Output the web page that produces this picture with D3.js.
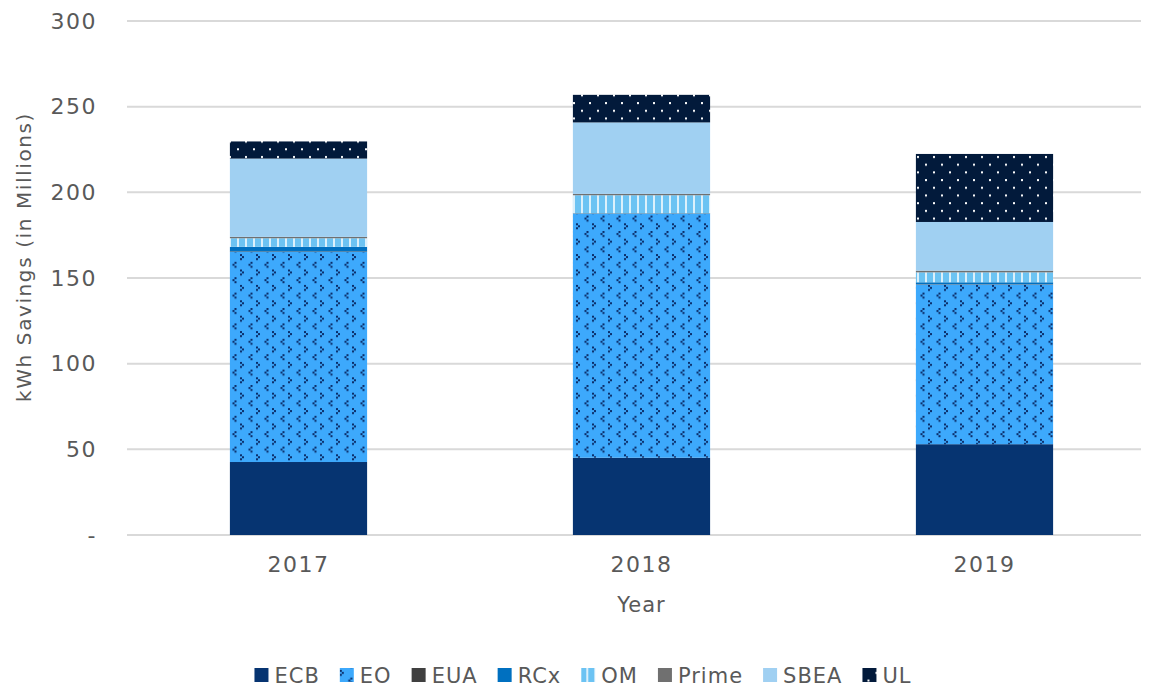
<!DOCTYPE html>
<html>
<head>
<meta charset="utf-8">
<script src="https://cdn.jsdelivr.net/npm/d3@7"></script>
<style>
  body { margin: 0; background: #fff; }
  svg text { font-family: "DejaVu Sans", sans-serif; fill: #595959; }
</style>
</head>
<body>
<div id="chart_div"></div>
<script>
// data
const years = ["2017", "2018", "2019"];
const seriesNames = ["ECB", "EO", "EUA", "RCx", "OM", "Prime", "SBEA", "UL"];
const ECB = [42.6, 45.1, 53.0];
const EO = [122.6, 142.3, 93.3];
const EUA = [0.3, 0.2, 0.2];
const RCx = [2.7, 0.2, 1.0];
const OM = [5.0, 10.5, 5.8];
const Prime = [0.8, 0.8, 1.0];
const SBEA = [45.7, 41.7, 28.4];
const UL = [10.0, 16.1, 39.7];
const yTicks = [0, 50, 100, 150, 200, 250, 300];

const values = { ECB, EO, EUA, RCx, OM, Prime, SBEA, UL };
const fills = {
  ECB: "#063471", EO: "url(#patEO)", EUA: "#404040", RCx: "#0070C0",
  OM: "url(#patOM)", Prime: "#707070", SBEA: "#A0D0F2", UL: "url(#patUL)"
};

const W = 1153, H = 688;
const margin = { left: 127, right: -3, top: 21, bottom: 153 };

const svg = d3.select("#chart_div").append("svg")
  .attr("width", W).attr("height", H);

// patterns
const defs = svg.append("defs");
const eo = defs.append("pattern").attr("id", "patEO")
  .attr("patternUnits", "userSpaceOnUse").attr("width", 16).attr("height", 15.4);
eo.append("rect").attr("width", 16).attr("height", 15.4).attr("fill", "#3DA9FC");
// "<" at (8,0) and ">" at (0,7.7)
[[10.5, 0], [8.5, 2], [10.5, 4]].forEach(p =>
  eo.append("rect").attr("x", p[0]).attr("y", p[1]).attr("width", 2).attr("height", 2).attr("fill", "#0B2E6A"));
[[0, 7.7], [2, 9.7], [0, 11.7]].forEach(p =>
  eo.append("rect").attr("x", p[0]).attr("y", p[1]).attr("width", 2).attr("height", 2).attr("fill", "#0B2E6A"));

const om = defs.append("pattern").attr("id", "patOM")
  .attr("patternUnits", "userSpaceOnUse").attr("width", 8).attr("height", 8);
om.append("rect").attr("width", 8).attr("height", 8).attr("fill", "#6CC3F3");
om.append("rect").attr("x", 5).attr("width", 2).attr("height", 8).attr("fill", "#DCF0FB");

const ul = defs.append("pattern").attr("id", "patUL")
  .attr("patternUnits", "userSpaceOnUse").attr("width", 16).attr("height", 15.4);
ul.append("rect").attr("width", 16).attr("height", 15.4).attr("fill", "#021A3B");
ul.append("rect").attr("x", 5).attr("y", 2).attr("width", 2).attr("height", 2).attr("fill", "#fff");
ul.append("rect").attr("x", 13).attr("y", 9.7).attr("width", 2).attr("height", 2).attr("fill", "#fff");

const x = d3.scaleBand()
  .domain(years)
  .range([margin.left, W - margin.right])
  .paddingInner(0.6).paddingOuter(0.3);

const y = d3.scaleLinear()
  .domain([0, 300])
  .range([H - margin.bottom, margin.top]);

// gridlines
svg.append("g")
  .selectAll("line").data(yTicks).enter().append("line")
  .attr("x1", margin.left).attr("x2", 1141)
  .attr("y1", d => y(d)).attr("y2", d => y(d))
  .attr("stroke", "#D9D9D9").attr("stroke-width", 2);

// y axis labels
const yAxis = svg.append("g")
  .attr("transform", "translate(" + margin.left + ",0)")
  .call(d3.axisLeft(y).tickValues(yTicks).tickSize(0).tickPadding(30)
    .tickFormat(d => d === 0 ? "-" : d));
yAxis.select(".domain").remove();
yAxis.selectAll("text").style("font-size", "22px").style("letter-spacing", "1.5px")
  .style("font-family", "DejaVu Sans").attr("fill", "#595959");

// stacked bars
const rows = years.map((yr, i) => {
  const r = { year: yr };
  seriesNames.forEach(s => r[s] = values[s][i]);
  return r;
});
const stack = d3.stack().keys(seriesNames)(rows);

svg.append("g").selectAll("g").data(stack).enter().append("g")
  .attr("fill", d => fills[d.key])
  .selectAll("rect").data(d => d).enter().append("rect")
  .attr("x", d => x(d.data.year))
  .attr("width", x.bandwidth())
  .attr("y", d => y(d[1]))
  .attr("height", d => y(d[0]) - y(d[1]));

// x axis labels
const xAxis = svg.append("g")
  .attr("transform", "translate(0," + y(0) + ")")
  .call(d3.axisBottom(x).tickSize(0).tickPadding(21));
xAxis.select(".domain").remove();
xAxis.selectAll("text").style("font-size", "22px").style("letter-spacing", "1.5px")
  .style("font-family", "DejaVu Sans").attr("fill", "#595959");

// axis titles
svg.append("text")
  .attr("x", (x.range()[0] + x.range()[1]) / 2).attr("y", 612)
  .attr("text-anchor", "middle")
  .style("font-size", "21px").style("letter-spacing", "1px")
  .text("Year");

svg.append("text")
  .attr("transform", "translate(31," + 257 + ") rotate(-90)")
  .attr("text-anchor", "middle")
  .style("font-size", "20px").style("letter-spacing", "1.6px")
  .text("kWh Savings (in Millions)");

// legend
const legend = svg.append("g");
let lx = 0;
seriesNames.forEach(s => {
  const g = legend.append("g").attr("transform", "translate(" + lx + ",0)");
  g.append("rect").attr("x", 0).attr("y", 668).attr("width", 14).attr("height", 14)
    .attr("fill", fills[s]);
  const t = g.append("text").attr("x", 20).attr("y", 683)
    .style("font-size", "21px").style("letter-spacing", "1px").text(s);
  lx += 20 + t.node().getComputedTextLength() + 20;
});
const legW = lx - 20;
legend.attr("transform", "translate(" + (583 - legW / 2) + ",0)");
</script>
</body>
</html>
